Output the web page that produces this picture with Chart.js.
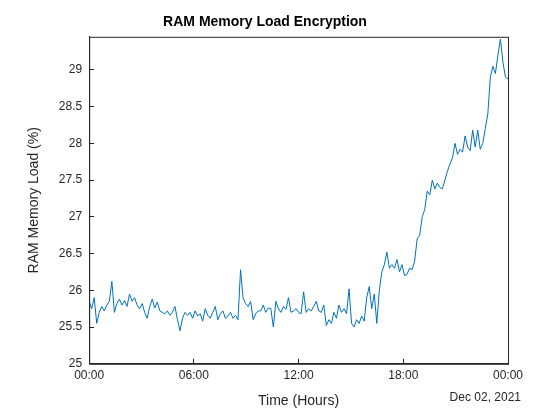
<!DOCTYPE html>
<html><head><script src="https://cdn.jsdelivr.net/npm/chart.js@4"></script>
<style>body{margin:0;background:#fff}</style></head>
<body><canvas id="c" width="560" height="420"></canvas>
<script>
const title = "RAM Memory Load Encryption";
const xLabel = "Time (Hours)";
const yLabel = "RAM Memory Load (%)";
const dateLabel = "Dec 02, 2021";
const xTickLabels = ["00:00","06:00","12:00","18:00","00:00"];
// evenly spaced samples from 00:00 to 24:00
const loadValues = [
25.85,25.75,25.9,25.55,25.7,25.78,25.72,25.8,25.85,26.12,25.7,25.82,
25.88,25.8,25.86,25.78,25.95,25.85,25.9,25.8,25.75,25.82,25.7,25.62,
25.78,25.88,25.76,25.84,25.72,25.7,25.68,25.72,25.66,25.7,25.78,25.6,
25.45,25.62,25.7,25.66,25.7,25.62,25.72,25.65,25.68,25.58,25.75,25.66,
25.62,25.7,25.78,25.6,25.68,25.72,25.62,25.65,25.7,25.62,25.66,25.6,
26.28,25.9,25.82,25.78,
25.85,25.6,25.68,25.72,25.72,25.8,25.7,25.76,25.75,25.5,25.85,25.75,
25.7,25.78,25.74,25.9,25.7,25.72,25.75,25.7,25.68,25.98,25.7,25.75,
25.72,25.78,25.85,25.72,25.7,25.8,25.52,25.6,25.55,25.7,25.62,25.8,
25.7,25.75,25.68,26.02,25.55,25.5,25.6,25.55,25.65,25.58,
25.9,26.05,25.75,25.95,25.55,26.0,26.25,26.35,26.52,26.3,26.35,26.3,
26.42,26.25,26.35,26.2,26.22,26.3,26.28,26.4,26.7,26.75,27.0,27.1,
27.35,27.3,27.5,27.38,27.46,27.4,27.38,27.5,27.62,27.72,27.8,28.0,
27.85,27.92,27.88,28.1,27.95,27.9,28.18,27.95,28.18,27.92,28.0,28.2,
28.4,28.9,29.05,28.95,29.2,29.42,29.1,28.9,28.88
];
const pts = loadValues.map((v,i)=>({x:i*24/(loadValues.length-1),y:v}));
const fmt = h => xTickLabels[Math.round(h/6)];
const F = 'Arial, "Liberation Sans"';
new Chart(document.getElementById('c'),{
 type:'line',
 data:{datasets:[{data:pts,borderColor:'#0072BD',borderWidth:1,pointRadius:0,tension:0}]},
 options:{responsive:false,animation:false,
  layout:{padding:{left:22,right:52,top:10,bottom:6}},
  plugins:{legend:{display:false},
   title:{display:true,text:title,color:'#000',font:{family:F,size:14,weight:'bold'},padding:{top:4,bottom:6}}},
  scales:{
   x:{type:'linear',min:0,max:24,
    ticks:{stepSize:6,callback:fmt,color:'#262626',font:{family:F,size:12},maxRotation:0,padding:10},
    grid:{drawOnChartArea:false,tickLength:-5,color:'#262626'},border:{color:'#262626'},
    title:{display:true,text:xLabel,color:'#262626',font:{family:F,size:14},padding:{top:0}}},
   y:{min:25,max:29.45,
    afterBuildTicks:ax=>{ax.ticks=[25,25.5,26,26.5,27,27.5,28,28.5,29].map(v=>({value:v}));},
    ticks:{callback:v=>String(v),color:'#262626',font:{family:F,size:12},padding:12},
    grid:{drawOnChartArea:false,tickLength:-5,color:'#262626'},border:{color:'#262626'},
    title:{display:true,text:yLabel,color:'#262626',font:{family:F,size:14},padding:{bottom:4}}}
  }},
 plugins:[{id:'box',afterDraw(ch){const a=ch.chartArea,c=ch.ctx;c.save();c.strokeStyle='#262626';c.lineWidth=1;
  c.strokeRect(a.left+.5,a.top+.5,a.right-a.left,a.bottom-a.top);
  c.fillStyle='#262626';c.font='12px '+F;c.textAlign='right';c.fillText(dateLabel,a.right+13,a.bottom+37);c.restore();}}]
});
</script></body></html>
